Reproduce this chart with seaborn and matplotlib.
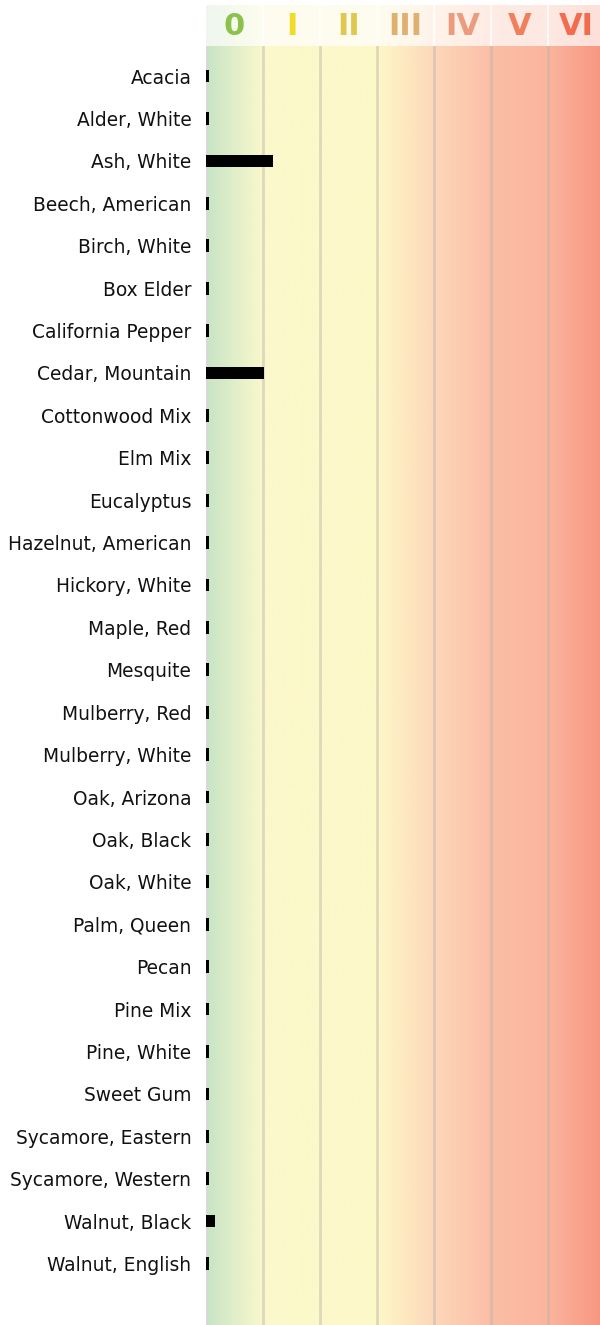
import numpy as np
import pandas as pd
import matplotlib
matplotlib.use("Agg")
import matplotlib.pyplot as plt
import seaborn as sns
from matplotlib.colors import LinearSegmentedColormap

sns.set_style("white")
plt.rcParams['font.family'] = ['DejaVu Sans']

# pollen species and their level (in class units, 0..7)
species = [
    "Acacia", "Alder, White", "Ash, White", "Beech, American", "Birch, White",
    "Box Elder", "California Pepper", "Cedar, Mountain", "Cottonwood Mix",
    "Elm Mix", "Eucalyptus", "Hazelnut, American", "Hickory, White",
    "Maple, Red", "Mesquite", "Mulberry, Red", "Mulberry, White",
    "Oak, Arizona", "Oak, Black", "Oak, White", "Palm, Queen", "Pecan",
    "Pine Mix", "Pine, White", "Sweet Gum", "Sycamore, Eastern",
    "Sycamore, Western", "Walnut, Black", "Walnut, English",
]
levels = [
    0.05, 0.05, 1.18, 0.05, 0.05,
    0.05, 0.05, 1.02, 0.05,
    0.05, 0.05, 0.05, 0.05,
    0.05, 0.05, 0.05, 0.05,
    0.05, 0.05, 0.05, 0.05, 0.05,
    0.05, 0.05, 0.05, 0.05,
    0.05, 0.16, 0.05,
]
classes = ["0", "I", "II", "III", "IV", "V", "VI"]
class_colors = ["#8bc34a", "#f0dc28", "#e0c850", "#e0b070", "#ec9c7c", "#f0805c", "#f46c50"]

df = pd.DataFrame({"species": species, "level": levels})

# background gradient (green -> yellow -> orange -> red)
stops = [
    (0.0, "#c8e4c6"),
    (1 / 7, "#fbf8cc"),
    (3 / 7, "#fdf8c8"),
    (4 / 7, "#fdd8ba"),
    (5 / 7, "#fcbea6"),
    (6 / 7, "#fbb59e"),
    (1.0, "#f8957f"),
]
cmap = LinearSegmentedColormap.from_list("pollen", stops)
grad = np.linspace(0, 1, 512).reshape(1, -1)

W, H = 600, 1325
fig = plt.figure(figsize=(W / 100, H / 100), dpi=100)

x0 = 206
cw = 57
ax = fig.add_axes([x0 / W, 0, 7 * cw / W, 1279 / H])
ax.imshow(grad, cmap=cmap, aspect="auto", extent=[0, 7, 29.45, -0.71], zorder=0)

sns.barplot(data=df, x="level", y="species", orient="h", color="black",
            width=0.3, saturation=1, linewidth=0, ax=ax, zorder=3)

ax.set_xlim(0, 7)
ax.set_ylim(29.45, -0.71)
for i in range(1, 7):
    ax.axvline(i, color="#b8b4a8", alpha=0.45, lw=2, zorder=2)
ax.axvline(0, color="#d8d8d8", lw=3, zorder=2)

ax.set_xlabel("")
ax.set_ylabel("")
ax.set_xticks([])
ax.tick_params(axis="y", length=0, pad=10.5, labelsize=13.4, labelcolor="#111111")
for s in ax.spines.values():
    s.set_visible(False)

# header band with class names
hx = fig.add_axes([x0 / W, (H - 46) / H, 7 * cw / W, 41 / H])
hx.imshow(grad, cmap=cmap, aspect="auto", extent=[0, 7, 0, 1], alpha=0.3, zorder=0)
for i in range(1, 7):
    hx.axvline(i, color="white", alpha=0.7, lw=1.5, zorder=1)
for i, (lab, c) in enumerate(zip(classes, class_colors)):
    hx.text(i + 0.5, 0.48, lab, color=c, fontsize=22, fontweight="bold",
            ha="center", va="center", zorder=2)
hx.set_xlim(0, 7)
hx.set_ylim(0, 1)
hx.axis("off")

fig.savefig("out.png", dpi=100)
